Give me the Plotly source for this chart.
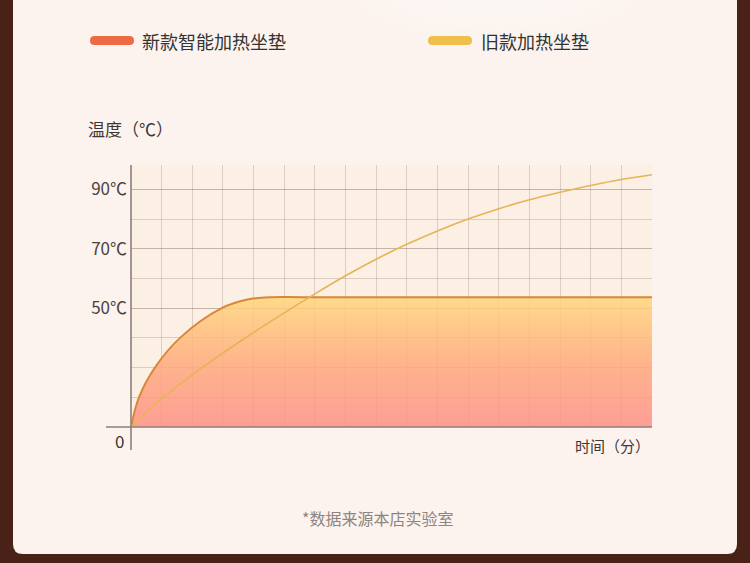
import plotly.graph_objects as go

# ----------------------------
# Data (y in axis units, baseline drawn as "0")
# ----------------------------
time_new = [0, 0.26, 0.78, 1.6, 2.96, 3.8, 4.6, 5.6, 17]
temp_new = [10, 20, 30, 40, 50, 52.9, 53.7, 53.7, 53.7]

time_old = [0, 1, 2, 3, 4, 5, 6, 7, 8, 9, 10, 11, 12, 13, 14, 15, 16, 17]
temp_old = [10, 19.6, 27.6, 34.9, 41.8, 48.4, 54.8, 60.9, 66.5, 71.5, 76, 80, 83.5, 86.5, 89, 91.3, 93.3, 94.9]

y_tickvals = [50, 70, 90]
y_ticktext = ["50℃", "70℃", "90℃"]

series_names = ["新款智能加热坐垫", "旧款加热坐垫"]

# ----------------------------
# Page geometry (pixels) -> paper coords
# ----------------------------
W, H = 750, 563
L, R, T, B = 131, 98, 165, 136
PW = W - L - R
PH = H - T - B
FONT = "Noto Sans CJK SC"


def px(x):
    return (x - L) / PW


def py(y):
    return (H - B - y) / PH


def rounded_rect(x0, y0, x1, y1, r):
    # pixel rect with rounded corners -> svg path in paper coords
    pts = [
        f"M {px(x0 + r)},{py(y0)}", f"L {px(x1 - r)},{py(y0)}",
        f"Q {px(x1)},{py(y0)} {px(x1)},{py(y0 + r)}",
        f"L {px(x1)},{py(y1 - r)}",
        f"Q {px(x1)},{py(y1)} {px(x1 - r)},{py(y1)}",
        f"L {px(x0 + r)},{py(y1)}",
        f"Q {px(x0)},{py(y1)} {px(x0)},{py(y1 - r)}",
        f"L {px(x0)},{py(y0 + r)}",
        f"Q {px(x0)},{py(y0)} {px(x0 + r)},{py(y0)}", "Z",
    ]
    return " ".join(pts)


shapes = []
# card
shapes.append(dict(type="path", xref="paper", yref="paper", layer="below",
                   path=rounded_rect(13, -20, 737, 554, 10),
                   fillcolor="#FCF3EE", line=dict(width=0)))
# soft glow at top
for rad, op in [(110, 0.10), (85, 0.12), (60, 0.15)]:
    shapes.append(dict(type="circle", xref="paper", yref="paper", layer="below",
                       x0=px(495 - rad * 1.3), x1=px(495 + rad * 1.3),
                       y0=py(-rad * 0.55), y1=py(-rad * 0.55 + rad * 0.9),
                       fillcolor="white", opacity=op, line=dict(width=0)))
# plot area tint
shapes.append(dict(type="rect", xref="paper", yref="paper", layer="below",
                   x0=0, x1=1, y0=0, y1=1, fillcolor="#FCEFE4", line=dict(width=0)))
# axis lines (extend past origin)
shapes.append(dict(type="line", xref="paper", yref="paper", layer="above",
                   x0=0, x1=0, y0=py(450), y1=1, line=dict(color="#8C7F7B", width=1.6)))
shapes.append(dict(type="line", xref="paper", yref="paper", layer="above",
                   x0=px(106), x1=1, y0=0, y1=0, line=dict(color="#8C7F7B", width=1.6)))
# legend bars
for x0, col in [(90, "#EE6A45"), (428, "#F0BE4A")]:
    shapes.append(dict(type="path", xref="paper", yref="paper", layer="above",
                       path=rounded_rect(x0, 36, x0 + 44, 45, 4.5),
                       fillcolor=col, line=dict(width=0)))

annotations = [
    dict(text=series_names[0], x=px(140), y=py(41), xanchor="left", yanchor="middle",
         font=dict(size=18, color="#333333", family=FONT)),
    dict(text=series_names[1], x=px(479), y=py(41), xanchor="left", yanchor="middle",
         font=dict(size=18, color="#333333", family=FONT)),
    dict(text="温度（℃）", x=px(86), y=py(128), xanchor="left", yanchor="middle",
         font=dict(size=17, color="#3E3633", family=FONT)),
    dict(text="0", x=px(119), y=py(440), xanchor="center", yanchor="middle",
         font=dict(size=17, color="#3E3633", family=FONT)),
    dict(text="时间（分）", x=px(652), y=py(445), xanchor="right", yanchor="middle",
         font=dict(size=15, color="#3E3633", family=FONT)),
    dict(text="*数据来源本店实验室", x=px(377), y=py(518), xanchor="center", yanchor="middle",
         font=dict(size=16, color="#8E8480", family=FONT)),
]
for a in annotations:
    a.update(xref="paper", yref="paper", showarrow=False)

fig = go.Figure()

fig.add_trace(go.Scatter(
    x=time_new, y=temp_new, name=series_names[0], mode="lines",
    line=dict(color="#D8883A", width=2, shape="spline", smoothing=1),
    fill="tozeroy",
    fillgradient=dict(type="vertical", start=10, stop=54,
                      colorscale=[[0, "rgba(255,140,132,0.82)"],
                                  [0.5, "rgba(255,168,120,0.82)"],
                                  [1, "rgba(255,214,120,0.82)"]]),
    showlegend=False, hoverinfo="skip",
))
fig.add_trace(go.Scatter(
    x=time_old, y=temp_old, name=series_names[1], mode="lines",
    line=dict(color="#E6B457", width=1.6, shape="spline", smoothing=1),
    showlegend=False, hoverinfo="skip",
))

grid = "rgba(140,115,108,0.28)"
fig.update_layout(
    width=W, height=H,
    margin=dict(l=L, r=R, t=T, b=B, pad=0),
    paper_bgcolor="#4A2116",
    plot_bgcolor="rgba(0,0,0,0)",
    font=dict(family=FONT),
    showlegend=False,
    shapes=shapes,
    annotations=annotations,
    xaxis=dict(range=[0, 17], dtick=1, tick0=0, showgrid=True, gridcolor=grid, gridwidth=1,
               showticklabels=False, zeroline=False, showline=False, fixedrange=True),
    yaxis=dict(range=[10, 98.2], tickvals=y_tickvals, ticktext=y_ticktext,
               showgrid=True, gridcolor=grid, gridwidth=1,
               minor=dict(tick0=10, dtick=10, showgrid=True, gridcolor=grid, gridwidth=1),
               tickfont=dict(size=17, color="#4A4240", family=FONT),
               ticks="", ticklabelstandoff=3, zeroline=False, showline=False, fixedrange=True),
)

# page body has a default 8px margin; drop it so the figure fills the window
fig.write_html("out.html", config={"displayModeBar": False},
               post_script="document.body.style.margin='0';")
